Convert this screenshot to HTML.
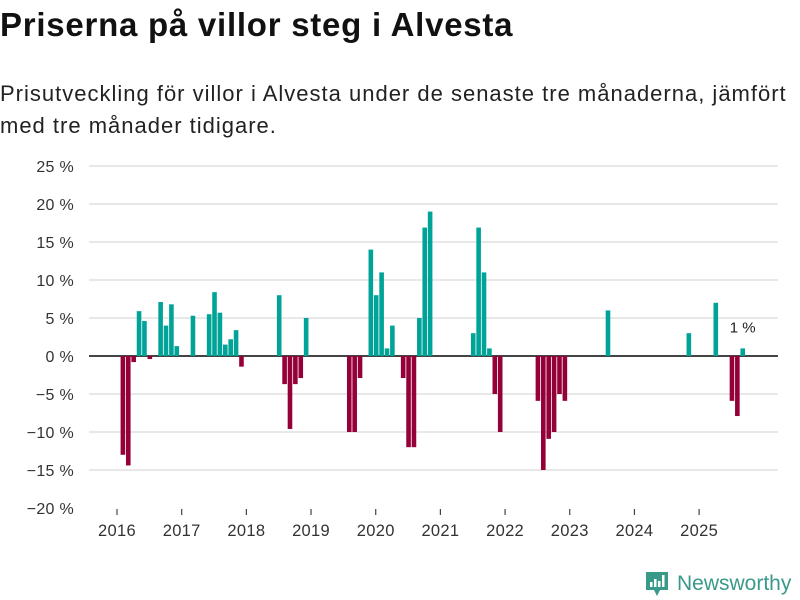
<!DOCTYPE html>
<html><head><meta charset="utf-8">
<style>
body{margin:0;background:#fff;width:800px;height:600px;overflow:hidden;font-family:"Liberation Sans",sans-serif;}
h1{position:absolute;left:0;top:6px;margin:0;font-size:33px;font-weight:bold;color:#111;letter-spacing:0.75px}
p.sub{position:absolute;left:0;top:78px;margin:0;font-size:22px;line-height:32px;color:#222;width:820px;letter-spacing:1px}
svg{position:absolute;left:0;top:0}
</style></head><body>
<h1>Priserna på villor steg i Alvesta</h1>
<p class="sub">Prisutveckling för villor i Alvesta under de senaste tre månaderna, jämfört<br>med tre månader tidigare.</p>
<svg id="chart" width="800" height="600"></svg>
<div style="position:absolute;left:645px;top:570px;height:28px;display:flex;align-items:center">
<svg width="24" height="28" style="position:static"><path d="M1 2h22v18h-8l-3 6-3-6H1z" fill="#3a9a8a"/><rect x="5" y="12" width="2.5" height="5" fill="#fff"/><rect x="9" y="9" width="2.5" height="8" fill="#fff"/><rect x="13" y="11" width="2.5" height="6" fill="#fff"/><rect x="17" y="5" width="2.5" height="12" fill="#fff"/></svg>
<span style="font-size:21px;color:#3a9a8a;margin-left:8px;font-weight:500">Newsworthy</span></div>
<script>
const months=[1,2,3,4,5,6,8,9,10,11,14,17,18,19,20,21,22,23,30,31,32,33,34,35,43,44,45,47,48,49,50,51,53,54,55,56,57,58,66,67,68,69,70,71,78,79,80,81,82,83,91,106,111,114,115,116];
const values=[-13,-14.4,-0.8,5.9,4.6,-0.4,7.1,4.0,6.8,1.3,5.3,5.5,8.4,5.7,1.5,2.2,3.4,-1.4,8.0,-3.7,-9.6,-3.7,-2.9,5.0,-10,-10,-2.9,14,8,11,1,4,-2.9,-12,-12,5,16.9,19,3,16.9,11,1,-5,-10,-5.9,-15,-10.9,-10,-5,-5.9,6,3,7,-5.9,-7.9,1];
const yTicks=[25,20,15,10,5,0,-5,-10,-15,-20];
const years=[2016,2017,2018,2019,2020,2021,2022,2023,2024,2025];
const svg=document.getElementById('chart');const NS='http://www.w3.org/2000/svg';
const x=m=>117.5+m*5.39;
const y=v=>356-v*7.6;
function mk(t,a){const e=document.createElementNS(NS,t);for(const k in a)e.setAttribute(k,a[k]);svg.appendChild(e);return e;}
yTicks.forEach(v=>{
 if(v>-20){const g=mk('line',{x1:89,x2:778,y1:y(v),y2:y(v),stroke:v===0?'#444':'#e0e0e0','stroke-width':v===0?2:1.5});
 
 }
 const t=mk('text',{x:74,y:y(v)+6,'text-anchor':'end','font-size':16,fill:'#333','font-family':'Liberation Sans, sans-serif','letter-spacing':'0.3'});
 t.textContent=(v<0?'\u2212'+(-v):v)+' %';
 
 
});
years.forEach((yr,i)=>{
 const tx=x(i*12)-0.5;
 const l=mk('line',{x1:tx,x2:tx,y1:509,y2:515,stroke:'#444','stroke-width':1.2});
 
 
 const t=mk('text',{x:tx,y:536,'text-anchor':'middle','font-size':16.5,fill:'#333','font-family':'Liberation Sans, sans-serif','letter-spacing':'0.3'});
 t.textContent=yr;
 
 
});
months.forEach((m,i)=>{
 const v=values[i];const top=Math.min(y(v),y(0)),h=Math.abs(y(v)-y(0));
 const r=mk('rect',{x:x(m)-2.3,y:top,width:4.6,height:h,fill:v>=0?'#00a398':'#960039'});
 
 
});
const li=months.length-1;
const lab=mk('text',{x:x(months[li]),y:y(values[li])-16,'text-anchor':'middle','font-size':15,fill:'#222','font-family':'Liberation Sans, sans-serif'});
lab.textContent=Math.round(values[li])+' %';


</script>
</body></html>
